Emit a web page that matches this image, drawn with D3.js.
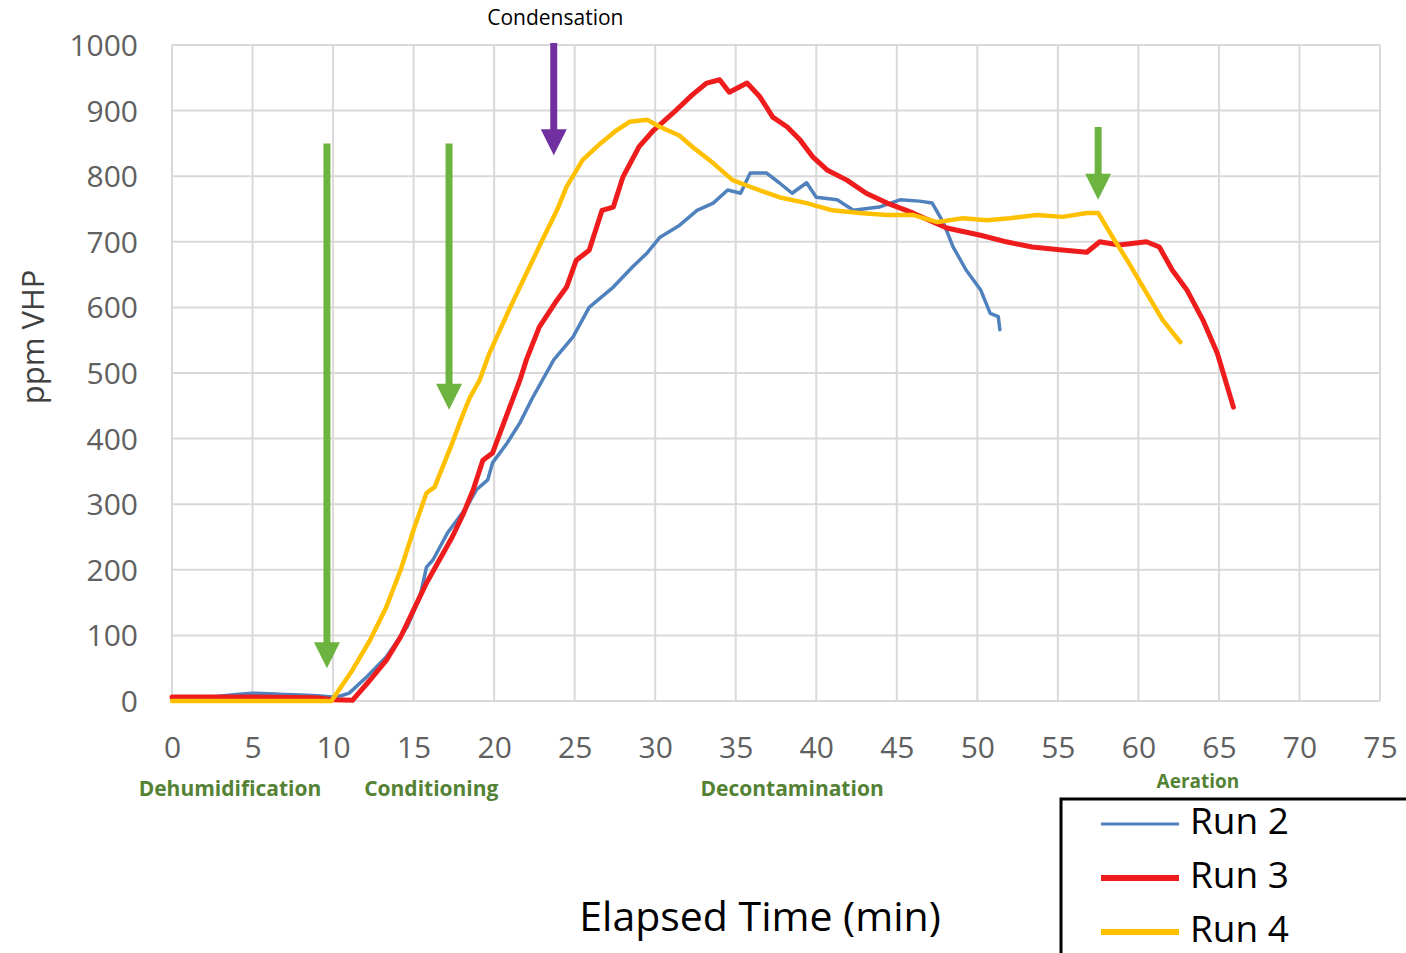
<!DOCTYPE html>
<html>
<head>
<meta charset="utf-8">
<script src="https://cdn.jsdelivr.net/npm/d3@7"></script>
<style>
  body { margin: 0; background: #fff; }
  svg { display: block; }
</style>
</head>
<body>
<div id="chart"></div>
<script>
// ppm VHP readings, [minutes, ppm]
var run2 = [[0,3],[2,5],[4,10],[5,12],[6,11],[7,10],[8,9],[9,8],[10,6],[10.5,8],[11,12],[12.1,37],[13.3,67],[14.6,113],[15.4,159],[15.8,204],[16.2,215],[17.1,256],[17.7,276],[18.3,296],[18.9,322],[19.6,337],[19.9,363],[20.8,393],[21.6,424],[22.4,463],[23.7,520],[24.9,555],[25.9,600],[27.4,631],[28.6,662],[29.5,683],[30.3,707],[31.5,725],[32.6,748],[33.6,759],[34.5,779],[35.3,774],[35.9,805],[36.9,805],[37.7,790],[38.5,774],[39.4,790],[40.0,768],[41.3,764],[42.3,748],[43.9,753],[45.2,764],[46.4,762],[47.2,759],[47.9,729],[48.5,692],[49.3,657],[50.2,627],[50.8,591],[51.3,586],[51.4,566]];
var run3 = [[0,6],[5,6],[9,5],[10,2],[11.2,1],[12.3,32],[13.3,62],[14.2,98],[15.0,139],[15.8,180],[16.6,215],[17.4,250],[18.1,286],[18.7,322],[19.3,367],[19.9,378],[20.6,424],[21.6,489],[22.0,520],[22.8,570],[23.9,611],[24.5,631],[25.1,672],[25.9,687],[26.7,748],[27.4,753],[28.0,799],[29.0,845],[29.9,870],[31.1,896],[32.3,924],[33.2,942],[34.0,947],[34.6,928],[35.7,942],[36.5,921],[37.3,890],[38.2,875],[39.0,855],[39.8,829],[40.7,809],[41.9,794],[43.1,774],[44.4,759],[46.0,744],[46.8,735],[48.1,721],[50.2,710],[51.8,700],[53.4,692],[55.1,688],[56.8,684],[57.6,700],[58.8,695],[60.5,700],[61.3,692],[62.1,657],[63.0,627],[64.0,581],[64.9,530],[65.9,448]];
var run4 = [[0,0],[5,0],[9.9,0],[11.2,47],[12.3,93],[13.3,143],[14.2,200],[15.0,261],[15.8,317],[16.3,326],[17.3,387],[18.1,439],[18.5,463],[19.1,489],[19.7,530],[21.0,600],[22.2,662],[23.0,703],[23.9,748],[24.5,784],[25.5,825],[26.6,850],[27.6,870],[28.4,883],[29.5,886],[30.3,875],[31.5,862],[32.3,845],[33.6,820],[34.8,794],[36.1,782],[37.7,768],[39.4,759],[41.0,748],[42.7,744],[44.4,741],[46.0,741],[47.5,730],[49.1,736],[50.6,733],[52.0,736],[53.7,741],[55.3,738],[56.8,744],[57.5,744],[58.4,707],[59.3,672],[60.5,622],[61.5,581],[62.6,547]];

var seriesNames = ["Run 2", "Run 3", "Run 4"];
var seriesColors = ["#4f81bd", "#ee1c1c", "#ffc000"];
var seriesWidths = [3.5, 5, 4.5];

var xTicks = d3.range(0, 76, 5);
var yTicks = d3.range(0, 1001, 100);

// phase annotations: arrow at minute x, from ppm top down to ppm tip
var arrowX = [9.62, 17.2, 23.7, 57.5];
var arrowTop = [850, 850, 1003, 875];
var arrowTip = [50, 444, 832, 764];
var arrowColor = ["#6db33f", "#6db33f", "#7030a0", "#6db33f"];

var phaseNames = ["Dehumidification", "Conditioning", "Decontamination", "Aeration"];
var phaseX = [3.6, 16.1, 38.5, 63.7];

var W = 1406, H = 953;
var svg = d3.select("#chart").append("svg")
  .attr("width", W).attr("height", H);

var x = d3.scaleLinear().domain([0, 75]).range([172, 1380]);
var y = d3.scaleLinear().domain([0, 1000]).range([701, 45]);

// grid
svg.append("g").selectAll("line").data(xTicks).enter().append("line")
  .attr("x1", function(d){ return x(d); }).attr("x2", function(d){ return x(d); })
  .attr("y1", y(0)).attr("y2", y(1000))
  .attr("stroke", "#d9d9d9").attr("stroke-width", 2);
svg.append("g").selectAll("line").data(yTicks).enter().append("line")
  .attr("y1", function(d){ return y(d); }).attr("y2", function(d){ return y(d); })
  .attr("x1", x(0)).attr("x2", x(75))
  .attr("stroke", "#d9d9d9").attr("stroke-width", 2);

// axes (labels only, domain hidden)
var yAxis = svg.append("g").attr("transform", "translate(" + (x(0) - 26) + ",0)")
  .call(d3.axisLeft(y).tickValues(yTicks).tickFormat(d3.format("d")).tickSize(0).tickPadding(8));
var xAxis = svg.append("g").attr("transform", "translate(0," + (y(0) + 36) + ")")
  .call(d3.axisBottom(x).tickValues(xTicks).tickFormat(d3.format("d")).tickSize(0).tickPadding(0));
[yAxis, xAxis].forEach(function(a){
  a.select(".domain").remove();
  a.selectAll("text")
    .attr("fill", "#606060")
    .style("font-family", "'Open Sans', sans-serif")
    .style("font-size", "30px");
});
yAxis.selectAll("text").attr("dy", "0.35em");

// lines
var line = d3.line()
  .x(function(d){ return x(d[0]); })
  .y(function(d){ return y(d[1]); });

[run2, run3, run4].forEach(function(s, i){
  svg.append("path")
    .datum(s)
    .attr("d", line)
    .attr("fill", "none")
    .attr("stroke", seriesColors[i])
    .attr("stroke-width", seriesWidths[i])
    .attr("stroke-linejoin", "round")
    .attr("stroke-linecap", "round");
});

// arrows
arrowX.forEach(function(ax, i){
  var px = x(ax), top = y(arrowTop[i]), tip = y(arrowTip[i]);
  var headH = 26, headW = 13;
  svg.append("line")
    .attr("x1", px).attr("x2", px)
    .attr("y1", top).attr("y2", tip - headH + 2)
    .attr("stroke", arrowColor[i]).attr("stroke-width", 7);
  svg.append("path")
    .attr("d", "M" + (px - headW) + "," + (tip - headH) + "L" + (px + headW) + "," + (tip - headH) + "L" + px + "," + tip + "Z")
    .attr("fill", arrowColor[i]);
});

svg.append("text")
  .attr("x", x(23.8)).attr("y", 25)
  .attr("text-anchor", "middle")
  .style("font-family", "'Open Sans', sans-serif")
  .style("font-size", "21px")
  .text("Condensation");

// phase labels
svg.append("g").selectAll("text").data(phaseNames).enter().append("text")
  .attr("x", function(d, i){ return x(phaseX[i]); })
  .attr("y", function(d, i){ return i == 3 ? 788 : 796; })
  .attr("text-anchor", "middle")
  .attr("fill", "#548235")
  .style("font-family", "'Open Sans', sans-serif")
  .style("font-weight", "bold")
  .style("font-size", function(d, i){ return i == 3 ? "19px" : "21px"; })
  .text(function(d){ return d; });

// axis titles
svg.append("text")
  .attr("transform", "translate(44," + y(555) + ") rotate(-90)")
  .attr("text-anchor", "middle")
  .attr("fill", "#404040")
  .style("font-family", "'Open Sans', sans-serif")
  .style("font-size", "31px")
  .text("ppm VHP");

svg.append("text")
  .attr("x", 760).attr("y", 931)
  .attr("text-anchor", "middle")
  .style("font-family", "'Open Sans', sans-serif")
  .style("font-size", "41px")
  .text("Elapsed Time (min)");

// legend
var legend = svg.append("g").attr("transform", "translate(1061,799)");
legend.append("rect")
  .attr("width", 400).attr("height", 200)
  .attr("fill", "#fff").attr("stroke", "#000").attr("stroke-width", 3);
var items = legend.selectAll("g.item").data(seriesNames).enter().append("g")
  .attr("class", "item")
  .attr("transform", function(d, i){ return "translate(0," + (22 + i * 54) + ")"; });
items.append("line")
  .attr("x1", 40).attr("x2", 118)
  .attr("y1", 3).attr("y2", 3)
  .attr("stroke", function(d, i){ return seriesColors[i]; })
  .attr("stroke-width", function(d, i){ return i == 0 ? 3 : 6; });
items.append("text")
  .attr("x", 129).attr("y", 0).attr("dy", "0.35em")
  .style("font-family", "'Open Sans', sans-serif")
  .style("font-size", "37px")
  .text(function(d){ return d; });
</script>
</body>
</html>
